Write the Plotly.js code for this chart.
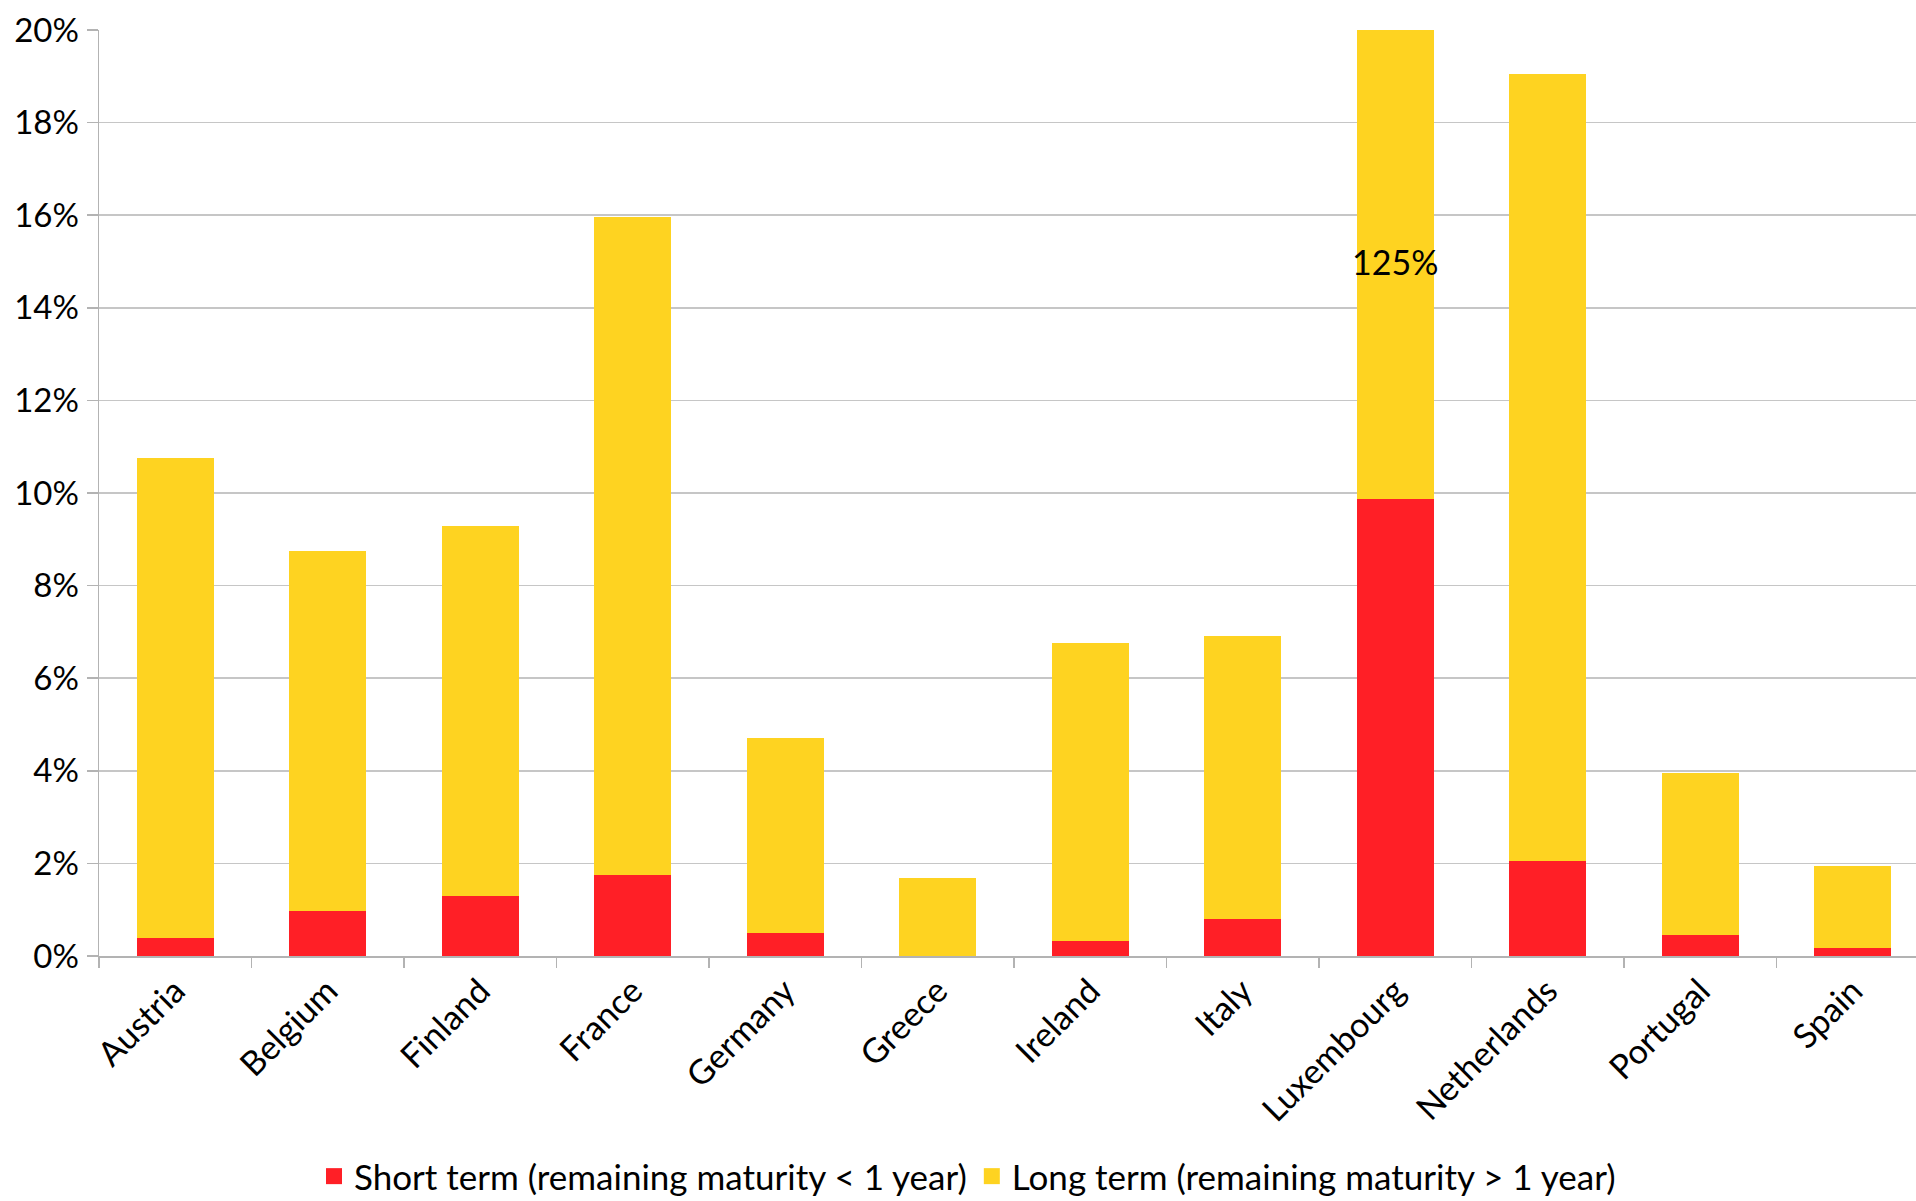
<!DOCTYPE html>
<html>
<head>
<meta charset="utf-8">
<script src="https://cdn.plot.ly/plotly-3.0.1.min.js"></script>
<style>
  html, body { margin: 0; padding: 0; background: #ffffff; }
  #chart { width: 1916px; height: 1201px; }
</style>
</head>
<body>
<div id="chart"></div>
<script>
// Categories (countries)
const countries = ["Austria", "Belgium", "Finland", "France", "Germany", "Greece",
                   "Ireland", "Italy", "Luxembourg", "Netherlands", "Portugal", "Spain"];

// Short term (remaining maturity < 1 year), %
const shortTerm = [0.39, 0.97, 1.29, 1.75, 0.50, 0.00, 0.32, 0.79, 9.87, 2.05, 0.45, 0.17];

// Long term (remaining maturity > 1 year), %  (Luxembourg total is 125%)
const longTerm  = [10.37, 7.78, 8.00, 14.21, 4.20, 1.69, 6.44, 6.13, 115.13, 17.01, 3.50, 1.77];

// Label for the off-scale bar
const offScaleCountry = "Luxembourg";
const offScaleLabel = "125%";
const offScaleLabelY = 15;

const seriesNames = ["Short term (remaining maturity < 1 year)",
                     "Long term (remaining maturity > 1 year)"];

const yTickVals = [0, 2, 4, 6, 8, 10, 12, 14, 16, 18, 20];

const RED = "#ff1f26";
const YELLOW = "#fed321";
const FONT = "Lato, 'Carlito', 'Open Sans', sans-serif";
const FS = 34;
const FS_Y = 33;
const FS_LEG = 35;

const colors = [RED, YELLOW];
const values = [shortTerm, longTerm];

const traces = [];
// stacked bars
values.forEach((vals, i) => {
  traces.push({
    type: "bar",
    name: seriesNames[i],
    x: countries,
    y: vals,
    marker: { color: colors[i], line: { width: 0 } },
    showlegend: false,
    legendgroup: "g" + i
  });
});
// legend entries (square swatches)
values.forEach((vals, i) => {
  traces.push({
    type: "scatter",
    mode: "markers",
    name: seriesNames[i],
    x: [null],
    y: [null],
    marker: { color: colors[i], symbol: "square", size: 16, line: { width: 0 } },
    showlegend: true,
    legendgroup: "g" + i
  });
});

const layout = {
  width: 1916,
  height: 1201,
  margin: { l: 99, r: 0, t: 30, b: 245, pad: 0, autoexpand: false },
  paper_bgcolor: "#ffffff",
  plot_bgcolor: "#ffffff",
  barmode: "stack",
  bargap: 0.495,
  font: { family: FONT, size: FS, color: "#000000" },
  showlegend: true,
  legend: {
    orientation: "h",
    x: 0.478,
    xanchor: "center",
    y: -0.238,
    yanchor: "middle",
    font: { family: FONT, size: FS_LEG, color: "#000000" },
    traceorder: "normal",
    itemwidth: 30,
    bgcolor: "rgba(0,0,0,0)"
  },
  xaxis: {
    type: "category",
    range: [-0.5, 11.416],
    tickangle: -45,
    ticks: "outside",
    tickson: "boundaries",
    ticklen: 10,
    tickwidth: 1.5,
    tickcolor: "#b3b3b3",
    showline: true,
    linecolor: "#b3b3b3",
    linewidth: 1.5,
    showgrid: false,
    automargin: false,
    tickfont: { family: FONT, size: FS, color: "#000000" },
    fixedrange: true
  },
  yaxis: {
    range: [0, 20],
    tickvals: yTickVals,
    ticktext: yTickVals.map(v => v + "%"),
    ticks: "outside",
    ticklen: 11,
    tickwidth: 1.5,
    tickcolor: "#b3b3b3",
    showline: true,
    linecolor: "#b3b3b3",
    linewidth: 1.5,
    showgrid: true,
    gridcolor: "#c6c6c6",
    gridwidth: 1.5,
    zeroline: false,
    automargin: false,
    ticklabelstandoff: 1,
    tickfont: { family: FONT, size: FS_Y, color: "#000000" },
    fixedrange: true
  },
  annotations: [
    {
      x: offScaleCountry,
      y: offScaleLabelY,
      xref: "x",
      yref: "y",
      text: offScaleLabel,
      showarrow: false,
      font: { family: FONT, size: FS, color: "#000000" },
      xanchor: "center",
      yanchor: "middle"
    }
  ]
};

Plotly.newPlot("chart", traces, layout, { displayModeBar: false, staticPlot: true });
</script>
</body>
</html>
